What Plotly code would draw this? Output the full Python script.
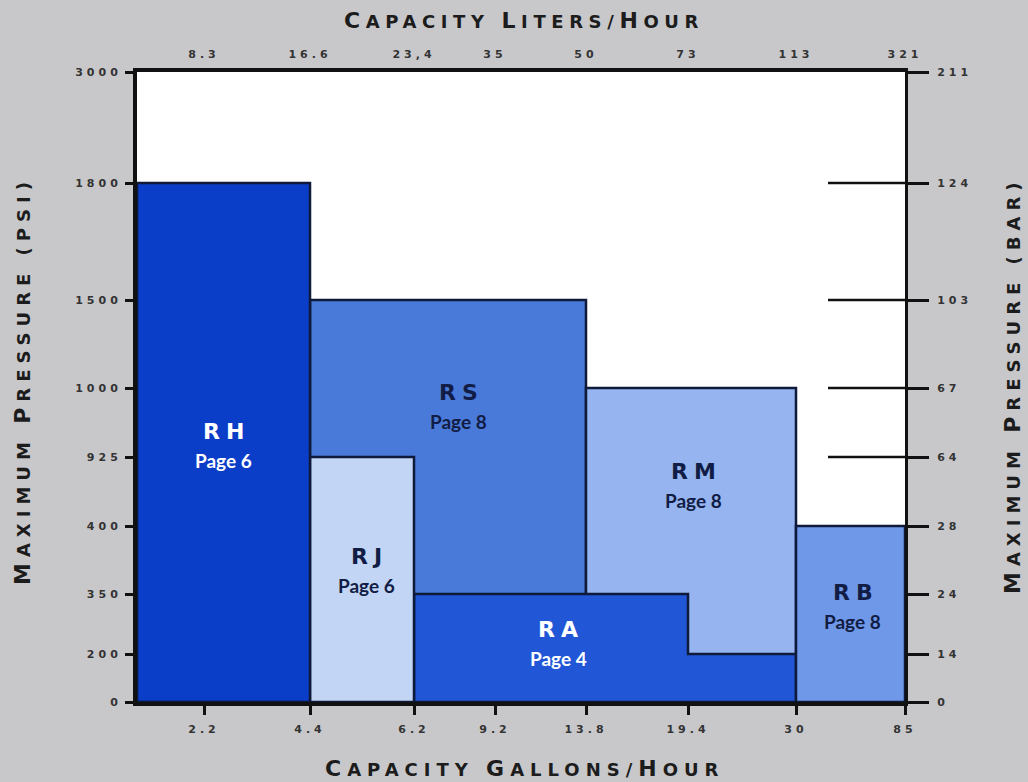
import re
import numpy as np
import plotly.graph_objects as go

# ---------------- data ----------------
gph_ticks = [2.2, 4.4, 6.2, 9.2, 13.8, 19.4, 30, 85]
lph_labels = ["8.3", "16.6", "23,4", "35", "50", "73", "113", "321"]
psi_ticks = [0, 200, 350, 400, 925, 1000, 1500, 1800, 3000]
bar_labels = ["0", "14", "24", "28", "64", "67", "103", "124", "211"]

models = ["RS", "RM", "RA", "RJ", "RH", "RB"]
pages = ["Page 8", "Page 8", "Page 4", "Page 6", "Page 6", "Page 8"]
gph_breaks = [[4.4, 13.8], [13.8, 30], [6.2, 19.4, 30], [4.4, 6.2], [0, 4.4], [30, 85]]
psi_levels = [[1500], [1000], [350, 200], [925], [1800], [400]]

# ---------------- style / scale ----------------
W, H = 1028, 782
ML, MR, MT, MB = 137, 123, 72, 80
PW, PH = W - ML - MR, H - MT - MB

# the chart uses an ordinal (non-linear) scale: knot positions along each axis
X_KNOT_VAL = [0] + gph_ticks
X_KNOT_POS = [0, 67, 173, 277, 358, 449, 551, 659, 768]
Y_KNOT_VAL = psi_ticks
Y_KNOT_POS = [0, 48, 108, 176, 245, 314, 402, 519, 630]


def sx(v):
    return float(np.interp(v, X_KNOT_VAL, X_KNOT_POS))


def sy(v):
    return float(np.interp(v, Y_KNOT_VAL, Y_KNOT_POS))


fills = {"RS": "#4a7ad9", "RM": "#95b4f0", "RA": "#2157d6", "RJ": "#c2d5f5",
         "RH": "#0a3dc8", "RB": "#6f98e8"}
text_col = {"RS": "#121d45", "RM": "#121d45", "RA": "#ffffff", "RJ": "#121d45",
            "RH": "#ffffff", "RB": "#121d45"}
# pixel offsets of label block from primary rectangle centre
label_off = {"RS": (10, 94), "RM": (2, 59), "RA": (-47, 4), "RJ": (4, 8),
             "RH": (0, -4), "RB": (2, 7)}
OUTLINE = "#0f1a3a"
AX = "#111111"
BG = "#c8c8cb"

fig = go.Figure()

for m, xb, yl in zip(models, gph_breaks, psi_levels):
    xs = [sx(xb[0])]
    ys = [0.0]
    for i, lev in enumerate(yl):
        xs += [sx(xb[i]), sx(xb[i + 1])]
        ys += [sy(lev), sy(lev)]
    xs += [sx(xb[-1]), sx(xb[0])]
    ys += [0.0, 0.0]
    fig.add_trace(go.Scatter(x=xs, y=ys, mode="lines", fill="toself",
                             fillcolor=fills[m], line=dict(color=OUTLINE, width=2.5),
                             hoverinfo="skip", showlegend=False))

# invisible trace for the secondary (top/right) axes
fig.add_trace(go.Scatter(x=[0], y=[0], xaxis="x2", yaxis="y2", mode="markers",
                         marker=dict(opacity=0), hoverinfo="skip", showlegend=False))


def spaced(t, sp=4):
    return f"<span style='letter-spacing:{sp}px'>{t}</span>"


tickfont = dict(family="DejaVu Sans", size=11, color="#333333", weight="bold")

# inner tick lines on the right side (white region)
for v in psi_ticks[4:8]:
    fig.add_shape(type="line", xref="x", yref="y", x0=PW - 77, x1=PW, y0=sy(v), y1=sy(v),
                  line=dict(color=AX, width=2.5), layer="below")

# labels
for m, pg, xb, yl in zip(models, pages, gph_breaks, psi_levels):
    cx = (sx(xb[0]) + sx(xb[-1])) / 2
    cy = sy(yl[0]) / 2
    dx, dy = label_off[m]
    fig.add_annotation(x=cx, y=cy, xref="x", yref="y", showarrow=False,
                       text=spaced(m, 6), xshift=dx + 3, yshift=dy + 15,
                       font=dict(family="DejaVu Sans", size=22, color=text_col[m], weight="bold"))
    fig.add_annotation(x=cx, y=cy, xref="x", yref="y", showarrow=False,
                       text=pg, xshift=dx, yshift=dy - 14,
                       font=dict(family="Lato", size=19, color=text_col[m], weight="bold"))


def smallcaps(text, big=22, small=18, sp=6):
    out = []
    for tok in re.split(r"([ /])", text):
        if tok == "":
            continue
        if tok in (" ", "/") or tok.startswith("("):
            out.append(f"<span style='font-size:{small}px;letter-spacing:{sp}px'>{tok}</span>")
        else:
            out.append(f"<span style='font-size:{big}px;letter-spacing:{sp}px'>{tok[0]}</span>")
            if len(tok) > 1:
                out.append(f"<span style='font-size:{small}px;letter-spacing:{sp}px'>{tok[1:]}</span>")
    return "".join(out)


def pxp(x):
    return (x - ML) / PW


def pyp(y):
    return (H - MB - y) / PH


title_font = dict(family="DejaVu Sans", size=18, color="#1c1c1c", weight="bold")
ta = dict(xref="paper", yref="paper", showarrow=False, xanchor="center", yanchor="middle",
          font=title_font)
fig.add_annotation(x=pxp(524), y=pyp(20), text=smallcaps("CAPACITY LITERS/HOUR", sp=5.6), **ta)
fig.add_annotation(x=pxp(524), y=pyp(768), text=smallcaps("CAPACITY GALLONS/HOUR", sp=6), **ta)
fig.add_annotation(x=pxp(22), y=pyp(381), text=smallcaps("MAXIMUM PRESSURE (PSI)", sp=6),
                   textangle=-90, **ta)
fig.add_annotation(x=pxp(1012), y=pyp(385), text=smallcaps("MAXIMUM PRESSURE (BAR)", sp=6),
                   textangle=-90, **ta)

common = dict(showgrid=False, zeroline=False, showline=True, linecolor=AX,
              tickcolor=AX, tickfont=tickfont, fixedrange=True)

fig.update_layout(
    width=W, height=H,
    margin=dict(l=ML, r=MR, t=MT, b=MB),
    paper_bgcolor=BG, plot_bgcolor="#ffffff",
    showlegend=False,
    xaxis=dict(range=[0, PW], tickvals=[sx(v) for v in gph_ticks],
               ticktext=[spaced(str(v)) for v in gph_ticks],
               ticks="outside", ticklen=9, tickwidth=3, linewidth=4,
               ticklabelstandoff=5, **common),
    xaxis2=dict(range=[0, PW], overlaying="x", side="top", anchor="y2",
                tickvals=[sx(v) for v in gph_ticks],
                ticktext=[spaced(t) for t in lph_labels],
                ticks="", linewidth=4, ticklabelstandoff=6, **common),
    yaxis=dict(range=[0, PH], tickvals=[sy(v) for v in psi_ticks],
               ticktext=[spaced(str(v)) for v in psi_ticks],
               ticks="outside", ticklen=8, tickwidth=3, linewidth=4,
               ticklabelstandoff=1, **common),
    yaxis2=dict(range=[0, PH], overlaying="y", side="right", anchor="x2",
                tickvals=[sy(v) for v in psi_ticks],
                ticktext=[spaced(t) for t in bar_labels],
                ticks="outside", ticklen=21, tickwidth=3, linewidth=3,
                ticklabelstandoff=6, **common),
)

fig.write_html("out.html", config={"displayModeBar": False},
               post_script="document.body.style.margin='0';"
                           "document.body.style.background='#c8c8cb';")
